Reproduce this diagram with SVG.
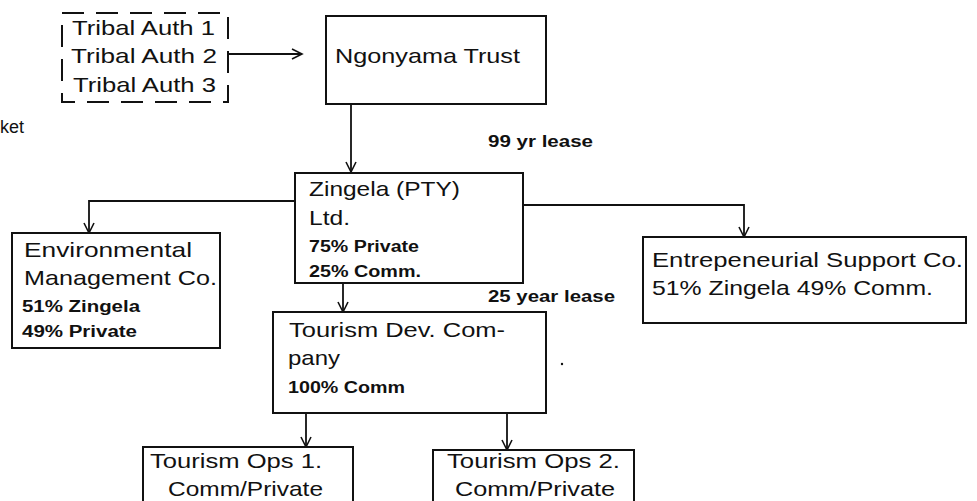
<svg xmlns="http://www.w3.org/2000/svg" width="977" height="501" viewBox="0 0 977 501">
<defs>
<marker id="arr" markerUnits="userSpaceOnUse" markerWidth="14" markerHeight="14" refX="11" refY="6" orient="auto">
<path d="M1,1 L11,6 L1,11" fill="none" stroke="#111" stroke-width="1.6"/>
</marker>
</defs>
<style>
.box{fill:#fff;stroke:#111;stroke-width:2}
.dash{fill:none;stroke:#111;stroke-width:2;stroke-dasharray:22 12}
.t{font-family:"Liberation Sans",Arial,sans-serif;font-size:21px;fill:#111}
.b{font-family:"Liberation Sans",Arial,sans-serif;font-size:16px;font-weight:bold;fill:#111}
.c{fill:none;stroke:#111;stroke-width:1.8}
</style>
<rect width="977" height="501" fill="#fff"/>
<g id="connectors">
<line class="c" x1="228" y1="54" x2="302" y2="54" marker-end="url(#arr)"/>
<line class="c" x1="351" y1="105" x2="351" y2="172" marker-end="url(#arr)"/>
<polyline class="c" points="295,201 89,201 89,233" marker-end="url(#arr)"/>
<polyline class="c" points="523,205 744,205 744,237" marker-end="url(#arr)"/>
<line class="c" x1="343" y1="283" x2="343" y2="312" marker-end="url(#arr)"/>
<line class="c" x1="306" y1="413" x2="306" y2="447" marker-end="url(#arr)"/>
<line class="c" x1="507" y1="413" x2="507" y2="450" marker-end="url(#arr)"/>
</g>
<g id="tribal">
<rect class="dash" x="62" y="13" width="166" height="89"/>
<text class="t" x="72" y="35" textLength="143" lengthAdjust="spacingAndGlyphs">Tribal Auth 1</text>
<text class="t" x="71" y="63" textLength="146" lengthAdjust="spacingAndGlyphs">Tribal Auth 2</text>
<text class="t" x="73" y="92" textLength="143" lengthAdjust="spacingAndGlyphs">Tribal Auth 3</text>
</g>
<g id="ket">
<text class="t" x="0" y="133" style="font-size:18px" textLength="24" lengthAdjust="spacingAndGlyphs">ket</text>
</g>
<g id="ngonyama">
<rect class="box" x="326" y="16" width="220" height="88"/>
<text class="t" x="335" y="63" textLength="185" lengthAdjust="spacingAndGlyphs">Ngonyama Trust</text>
</g>
<g id="lease99">
<text class="b" x="488" y="147" textLength="105" lengthAdjust="spacingAndGlyphs">99 yr lease</text>
</g>
<g id="zingela">
<rect class="box" x="295" y="173" width="228" height="110"/>
<text class="t" x="309" y="196" textLength="151" lengthAdjust="spacingAndGlyphs">Zingela (PTY)</text>
<text class="t" x="309" y="225" textLength="41" lengthAdjust="spacingAndGlyphs">Ltd.</text>
<text class="b" x="309" y="252" textLength="110" lengthAdjust="spacingAndGlyphs">75% Private</text>
<text class="b" x="309" y="277" textLength="112" lengthAdjust="spacingAndGlyphs">25% Comm.</text>
</g>
<g id="environmental">
<rect class="box" x="12" y="233" width="208" height="115"/>
<text class="t" x="24" y="257" textLength="168" lengthAdjust="spacingAndGlyphs">Environmental</text>
<text class="t" x="24" y="285" textLength="193" lengthAdjust="spacingAndGlyphs">Management Co.</text>
<text class="b" x="22" y="312" textLength="118" lengthAdjust="spacingAndGlyphs">51% Zingela</text>
<text class="b" x="22" y="337" textLength="115" lengthAdjust="spacingAndGlyphs">49% Private</text>
</g>
<g id="entrepreneurial">
<rect class="box" x="643" y="237" width="323" height="86"/>
<text class="t" x="652" y="267" textLength="311" lengthAdjust="spacingAndGlyphs">Entrepeneurial Support Co.</text>
<text class="t" x="652" y="295" textLength="281" lengthAdjust="spacingAndGlyphs">51% Zingela 49% Comm.</text>
</g>
<g id="lease25">
<text class="b" x="488" y="302" textLength="127" lengthAdjust="spacingAndGlyphs">25 year lease</text>
</g>
<g id="tourismdev">
<rect class="box" x="273" y="312" width="273" height="101"/>
<text class="t" x="289" y="337" textLength="216" lengthAdjust="spacingAndGlyphs">Tourism Dev. Com-</text>
<text class="t" x="288" y="365" textLength="52" lengthAdjust="spacingAndGlyphs">pany</text>
<text class="b" x="288" y="393" textLength="117" lengthAdjust="spacingAndGlyphs">100% Comm</text>
</g>
<circle cx="562" cy="364" r="1.2" fill="#111"/>
<g id="ops1">
<rect class="box" x="143" y="447" width="210" height="70"/>
<text class="t" x="150" y="468" textLength="172" lengthAdjust="spacingAndGlyphs">Tourism Ops 1.</text>
<text class="t" x="168" y="496" textLength="155" lengthAdjust="spacingAndGlyphs">Comm/Private</text>
</g>
<g id="ops2">
<rect class="box" x="433" y="450" width="201" height="70"/>
<text class="t" x="447" y="468" textLength="173" lengthAdjust="spacingAndGlyphs">Tourism Ops 2.</text>
<text class="t" x="455" y="496" textLength="160" lengthAdjust="spacingAndGlyphs">Comm/Private</text>
</g>
</svg>
